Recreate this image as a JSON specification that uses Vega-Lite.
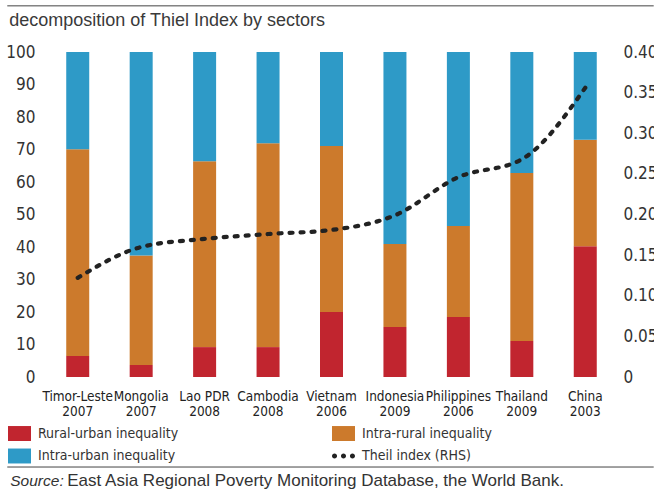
{
  "$schema": "https://vega.github.io/schema/vega-lite/v6.json",
  "width": 571,
  "height": 325,
  "autosize": {"type": "none"},
  "padding": {"left": 46, "top": 52, "right": 37, "bottom": 114},
  "background": "white",
  "datasets": {
    "sectors": [
      {"country": "Timor-Leste|2007", "sector": "Rural-urban inequality", "share": 6.5},
      {"country": "Timor-Leste|2007", "sector": "Intra-rural inequality", "share": 63.6},
      {"country": "Timor-Leste|2007", "sector": "Intra-urban inequality", "share": 29.9},
      {"country": "Mongolia|2007", "sector": "Rural-urban inequality", "share": 3.7},
      {"country": "Mongolia|2007", "sector": "Intra-rural inequality", "share": 33.7},
      {"country": "Mongolia|2007", "sector": "Intra-urban inequality", "share": 62.6},
      {"country": "Lao PDR|2008", "sector": "Rural-urban inequality", "share": 9.2},
      {"country": "Lao PDR|2008", "sector": "Intra-rural inequality", "share": 57.2},
      {"country": "Lao PDR|2008", "sector": "Intra-urban inequality", "share": 33.6},
      {"country": "Cambodia|2008", "sector": "Rural-urban inequality", "share": 9.2},
      {"country": "Cambodia|2008", "sector": "Intra-rural inequality", "share": 62.7},
      {"country": "Cambodia|2008", "sector": "Intra-urban inequality", "share": 28.1},
      {"country": "Vietnam|2006", "sector": "Rural-urban inequality", "share": 20.0},
      {"country": "Vietnam|2006", "sector": "Intra-rural inequality", "share": 51.1},
      {"country": "Vietnam|2006", "sector": "Intra-urban inequality", "share": 28.9},
      {"country": "Indonesia|2009", "sector": "Rural-urban inequality", "share": 15.4},
      {"country": "Indonesia|2009", "sector": "Intra-rural inequality", "share": 25.5},
      {"country": "Indonesia|2009", "sector": "Intra-urban inequality", "share": 59.1},
      {"country": "Philippines|2006", "sector": "Rural-urban inequality", "share": 18.5},
      {"country": "Philippines|2006", "sector": "Intra-rural inequality", "share": 28.0},
      {"country": "Philippines|2006", "sector": "Intra-urban inequality", "share": 53.5},
      {"country": "Thailand|2009", "sector": "Rural-urban inequality", "share": 11.1},
      {"country": "Thailand|2009", "sector": "Intra-rural inequality", "share": 51.7},
      {"country": "Thailand|2009", "sector": "Intra-urban inequality", "share": 37.2},
      {"country": "China|2003", "sector": "Rural-urban inequality", "share": 40.2},
      {"country": "China|2003", "sector": "Intra-rural inequality", "share": 32.8},
      {"country": "China|2003", "sector": "Intra-urban inequality", "share": 27.0}
    ],
    "theil": [
      {"country": "Timor-Leste|2007", "theil": 0.122},
      {"country": "Mongolia|2007", "theil": 0.160},
      {"country": "Lao PDR|2008", "theil": 0.170},
      {"country": "Cambodia|2008", "theil": 0.176},
      {"country": "Vietnam|2006", "theil": 0.181},
      {"country": "Indonesia|2009", "theil": 0.199},
      {"country": "Philippines|2006", "theil": 0.246},
      {"country": "Thailand|2009", "theil": 0.268},
      {"country": "China|2003", "theil": 0.356}
    ]
  },
  "layer": [
    {
      "data": {"name": "sectors"},
      "transform": [
        {"calculate": "indexof(['Rural-urban inequality', 'Intra-rural inequality', 'Intra-urban inequality'], datum.sector)", "as": "stackOrder"}
      ],
      "mark": {"type": "bar"},
      "encoding": {
        "x": {
          "field": "country",
          "type": "nominal",
          "sort": null,
          "scale": {"paddingInner": 0.6375, "paddingOuter": 0.319},
          "axis": {
            "title": null,
            "labelAngle": 0,
            "labelExpr": "split(datum.label, '|')",
            "labelFont": "Liberation Sans Narrow, DejaVu Sans Condensed, Roboto Condensed, sans-serif",
            "labelFontSize": 13.5,
            "labelColor": "#222222",
            "labelLineHeight": 15.5,
            "labelPadding": 12,
            "labelBaseline": "top"
          }
        },
        "y": {
          "field": "share",
          "type": "quantitative",
          "stack": "zero",
          "scale": {"domain": [0, 100], "nice": false},
          "axis": {
            "title": null,
            "values": [0, 10, 20, 30, 40, 50, 60, 70, 80, 90, 100],
            "labelFont": "Liberation Sans Narrow, DejaVu Sans Condensed, Roboto Condensed, sans-serif",
            "labelFontSize": 17,
            "labelColor": "#333333",
            "labelPadding": 11
          }
        },
        "order": {"field": "stackOrder", "type": "quantitative"},
        "color": {
          "field": "sector",
          "type": "nominal",
          "scale": {
            "domain": ["Rural-urban inequality", "Intra-rural inequality", "Intra-urban inequality", "Theil index (RHS)"],
            "range": ["#C1252F", "#CC7A2C", "#2E9AC7", "#222222"]
          },
          "legend": {
            "title": null,
            "orient": "none",
            "legendX": -38,
            "legendY": 370,
            "direction": "horizontal",
            "columns": 2,
            "columnPadding": 153,
            "rowPadding": 3.5,
            "symbolSize": 529,
            "labelOffset": 7,
            "labelFont": "Liberation Sans Narrow, DejaVu Sans Condensed, Roboto Condensed, sans-serif",
            "labelFontSize": 14,
            "labelColor": "#333333",
            "labelLimit": 300,
            "encode": {
              "symbols": {
                "update": {
                  "shape": {"signal": "datum.value === 'Theil index (RHS)' ? 'M-1,0A0.22,0.22,0,1,0,-0.56,0A0.22,0.22,0,1,0,-1,0Z M-0.22,0A0.22,0.22,0,1,0,0.22,0A0.22,0.22,0,1,0,-0.22,0Z M0.56,0A0.22,0.22,0,1,0,1,0A0.22,0.22,0,1,0,0.56,0Z' : 'M-1,-0.65H1V0.65H-1Z'"},
                  "fill": {"scale": "color", "field": "value"},
                  "fillOpacity": {"value": 1},
                  "strokeWidth": {"value": 0}
                }
              }
            }
          }
        }
      }
    },
    {
      "data": {"name": "theil"},
      "mark": {"type": "line", "interpolate": "monotone", "strokeDash": [3, 8], "strokeCap": "round", "strokeWidth": 4.2},
      "encoding": {
        "x": {
          "field": "country",
          "type": "nominal",
          "sort": null,
          "scale": {"paddingInner": 0.6375, "paddingOuter": 0.319},
          "axis": null
        },
        "y": {
          "field": "theil",
          "type": "quantitative",
          "scale": {"domain": [0, 0.4], "nice": false},
          "axis": {
            "orient": "right",
            "title": null,
            "values": [0, 0.05, 0.1, 0.15, 0.2, 0.25, 0.3, 0.35, 0.4],
            "labelExpr": "datum.value == 0 ? '0' : format(datum.value, '.2f')",
            "labelFont": "Liberation Sans Narrow, DejaVu Sans Condensed, Roboto Condensed, sans-serif",
            "labelFontSize": 17,
            "labelColor": "#333333",
            "labelPadding": 6
          }
        },
        "color": {"datum": "Theil index (RHS)"}
      }
    },
    {
      "data": {"values": [{}]},
      "mark": {"type": "rule", "color": "#444444", "strokeWidth": 1},
      "encoding": {
        "x": {"datum": 0, "type": "quantitative", "scale": {"domain": [0.0599, 0.9432], "zero": false, "nice": false}, "axis": null},
        "x2": {"datum": 1},
        "y": {"datum": 114.2, "type": "quantitative", "scale": {"domain": [0, 100], "nice": false}, "axis": null}
      }
    },
    {
      "data": {"values": [{}]},
      "mark": {"type": "rule", "color": "#444444", "strokeWidth": 1},
      "encoding": {
        "x": {"datum": 0, "type": "quantitative", "scale": {"domain": [0.0599, 0.9432], "zero": false, "nice": false}, "axis": null},
        "x2": {"datum": 1},
        "y": {"datum": -27.7, "type": "quantitative", "scale": {"domain": [0, 100], "nice": false}, "axis": null}
      }
    },
    {
      "data": {"values": [{}]},
      "mark": {"type": "text", "text": "decomposition of Thiel Index by sectors", "align": "left", "baseline": "middle", "dx": 2, "font": "Liberation Sans", "fontSize": 18, "color": "#3a3a3a"},
      "encoding": {
        "x": {"datum": 0, "type": "quantitative", "scale": {"domain": [0.0599, 0.9432], "zero": false, "nice": false}, "axis": null},
        "y": {"datum": 109.6, "type": "quantitative", "scale": {"domain": [0, 100], "nice": false}, "axis": null}
      }
    },
    {
      "data": {"values": [{}]},
      "mark": {"type": "text", "text": "Source:", "align": "left", "baseline": "middle", "dx": 3, "font": "Liberation Sans", "fontSize": 15.5, "fontStyle": "italic", "color": "#333333"},
      "encoding": {
        "x": {"datum": 0, "type": "quantitative", "scale": {"domain": [0.0599, 0.9432], "zero": false, "nice": false}, "axis": null},
        "y": {"datum": -32.1, "type": "quantitative", "scale": {"domain": [0, 100], "nice": false}, "axis": null}
      }
    },
    {
      "data": {"values": [{}]},
      "mark": {"type": "text", "text": "East Asia Regional Poverty Monitoring Database, the World Bank.", "align": "left", "baseline": "middle", "dx": 60, "font": "Liberation Sans", "fontSize": 17, "color": "#333333"},
      "encoding": {
        "x": {"datum": 0, "type": "quantitative", "scale": {"domain": [0.0599, 0.9432], "zero": false, "nice": false}, "axis": null},
        "y": {"datum": -32.1, "type": "quantitative", "scale": {"domain": [0, 100], "nice": false}, "axis": null}
      }
    }
  ],
  "resolve": {"scale": {"x": "independent", "y": "independent"}},
  "config": {
    "view": {"stroke": null},
    "axis": {"domain": false, "ticks": false, "grid": false}
  }
}
